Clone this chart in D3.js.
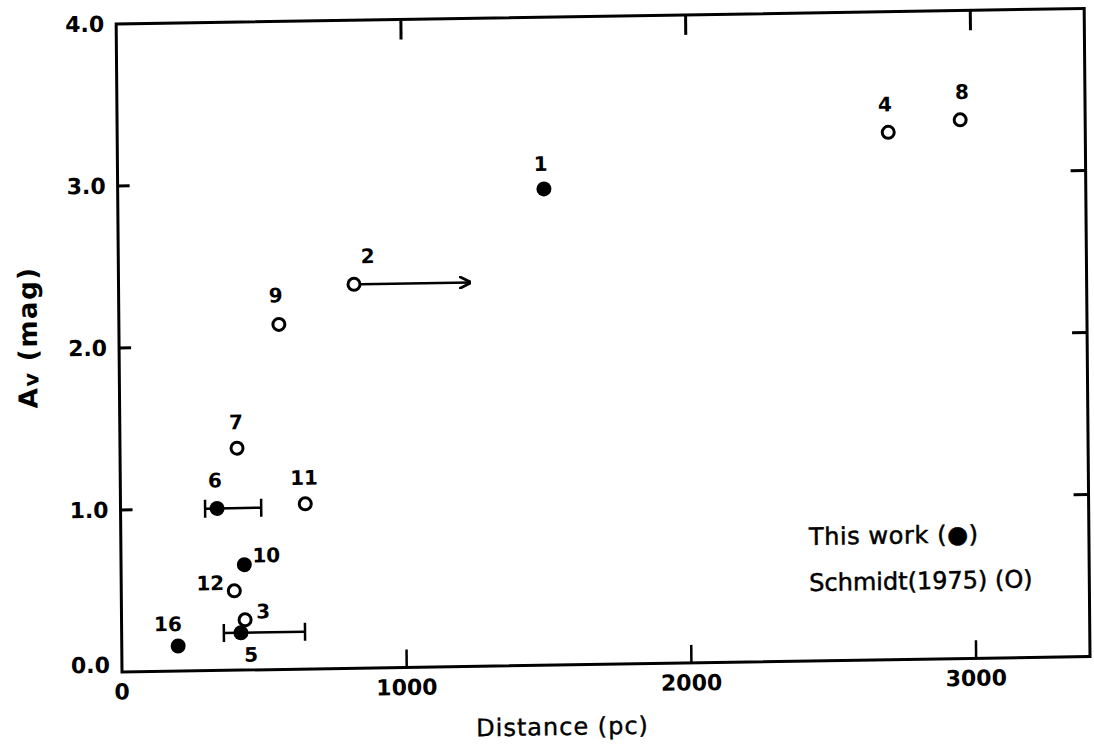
<!DOCTYPE html>
<html>
<head>
<meta charset="utf-8">
<script src="https://cdn.jsdelivr.net/npm/d3@7"></script>
<style>
  body { margin: 0; background: #fff; }
  svg { display: block; }
</style>
</head>
<body>
<div id="chart"></div>
<script>
// star numbers as printed next to each point
var starIds = ["1", "2", "3", "4", "5", "6", "7", "8", "9", "10", "11", "12", "16"];
// distance in pc
var distancePc = [1497, 827, 434, 2708, 419, 339, 411, 2961, 562, 433, 649, 397, 198];
// visual extinction
var avMag = [2.94, 2.37, 0.31, 3.255, 0.23, 1.00, 1.37, 3.325, 2.13, 0.65, 1.02, 0.49, 0.155];
// "this" = this work (filled), "schmidt" = Schmidt 1975 (open)
var source = ["this", "schmidt", "schmidt", "schmidt", "this", "this", "schmidt", "schmidt", "schmidt", "this", "schmidt", "schmidt", "this"];
// distance error bars (null = none)
var distLow = [null, null, null, null, 359, 297, null, null, null, null, null, null, null];
var distHigh = [null, null, null, null, 644, 494, null, null, null, null, null, null, null];
// lower limit arrow for star 2
var arrowTo = [null, 1235, null, null, null, null, null, null, null, null, null, null, null];

var xTicks = [0, 1000, 2000, 3000];
var yTicks = [0, 1, 2, 3, 4];
var legendItems = ["This work (\u25CF)", "Schmidt(1975) (O)"];

var data = starIds.map(function(id, i) {
  return {id: id, d: distancePc[i], av: avMag[i], src: source[i],
          lo: distLow[i], hi: distHigh[i], arrow: arrowTo[i]};
});

// label offsets around each point (layout only)
var labelOffset = {
  "1": [-3, -25], "2": [14, -28], "3": [18, -8], "4": [-3, -28], "5": [10, 22],
  "6": [-2, -28], "7": [-1, -26], "8": [2, -28], "9": [-3, -29], "10": [22, -9],
  "11": [-1, -26], "12": [-24, -8], "16": [-10, -22]
};

var W = 1094, H = 751;
var left = 122, bottom = 672;
var width = 968, height = 648;
var font = "'DejaVu Sans', sans-serif";

var x = d3.scaleLinear().domain([0, 3400]).range([0, width]);
var y = d3.scaleLinear().domain([0, 4]).range([height, 0]);

var svg = d3.select("#chart").append("svg")
  .attr("width", W)
  .attr("height", H);

// scanned figure sits slightly tilted / skewed
var g = svg.append("g")
  .attr("transform", "matrix(1,-0.016,0.009,1," + left + "," + bottom + ") translate(0," + (-height) + ")");

g.append("rect")
  .attr("width", width).attr("height", height)
  .attr("fill", "none").attr("stroke", "#000").attr("stroke-width", 3);

var inner = [1, 2, 3];
// tick marks pointing inward
g.selectAll(".ytl").data(inner).enter().append("line")
  .attr("x1", 0).attr("x2", 12)
  .attr("y1", function(d) { return y(d); }).attr("y2", function(d) { return y(d); })
  .attr("stroke", "#000").attr("stroke-width", 3);
g.selectAll(".ytr").data(inner).enter().append("line")
  .attr("x1", width).attr("x2", width - 15)
  .attr("y1", function(d) { return y(d); }).attr("y2", function(d) { return y(d); })
  .attr("stroke", "#000").attr("stroke-width", 3);
var xInner = xTicks.filter(function(d) { return d > 0; });
g.selectAll(".xtb").data(xInner).enter().append("line")
  .attr("x1", function(d) { return x(d); }).attr("x2", function(d) { return x(d); })
  .attr("y1", height).attr("y2", height - 18)
  .attr("stroke", "#000").attr("stroke-width", 2.5);
g.selectAll(".xtt").data(xInner).enter().append("line")
  .attr("x1", function(d) { return x(d); }).attr("x2", function(d) { return x(d); })
  .attr("y1", 0).attr("y2", 20)
  .attr("stroke", "#000").attr("stroke-width", 3);

// tick labels
g.selectAll(".ylab").data(yTicks).enter().append("text")
  .attr("x", -12)
  .attr("y", function(d) { return y(d) + (d === 0 ? -7 : 0); })
  .attr("text-anchor", "end")
  .attr("dominant-baseline", "central")
  .style("font-family", font).style("font-size", "22px").style("font-weight", "bold")
  .text(function(d) { return d3.format(".1f")(d); });

g.selectAll(".xlab").data(xTicks).enter().append("text")
  .attr("x", function(d) { return x(d); })
  .attr("y", height + 20)
  .attr("text-anchor", "middle")
  .attr("dominant-baseline", "central")
  .style("font-family", font).style("font-size", "22px").style("font-weight", "bold")
  .text(function(d) { return d; });

// axis titles
g.append("text")
  .attr("x", 440).attr("y", height + 62)
  .attr("text-anchor", "middle").attr("dominant-baseline", "central")
  .style("font-family", font).style("font-size", "24px").style("letter-spacing", "1px")
  .attr("stroke", "#000").attr("stroke-width", 0.4)
  .text("Distance (pc)");

var yt = g.append("text")
  .attr("transform", "translate(-91,312) rotate(-90)")
  .attr("text-anchor", "middle").attr("dominant-baseline", "central")
  .style("font-family", font).style("font-size", "26px").style("font-weight", "bold")
  .style("letter-spacing", "1.5px");
yt.append("tspan").text("A");
yt.append("tspan").attr("dy", 3).style("font-size", "21px").text("v");
yt.append("tspan").attr("dy", -3).text(" (mag)");

// error bars
var eb = data.filter(function(d) { return d.lo !== null; });
g.selectAll(".eb").data(eb).enter().append("line")
  .attr("x1", function(d) { return x(d.lo); }).attr("x2", function(d) { return x(d.hi); })
  .attr("y1", function(d) { return y(d.av); }).attr("y2", function(d) { return y(d.av); })
  .attr("stroke", "#000").attr("stroke-width", 2.5);
["lo", "hi"].forEach(function(k) {
  g.selectAll(".cap" + k).data(eb).enter().append("line")
    .attr("x1", function(d) { return x(d[k]); }).attr("x2", function(d) { return x(d[k]); })
    .attr("y1", function(d) { return y(d.av) - 9; }).attr("y2", function(d) { return y(d.av) + 9; })
    .attr("stroke", "#000").attr("stroke-width", 2.5);
});

// lower limit arrow
svg.append("defs").append("marker")
  .attr("id", "arr").attr("viewBox", "0 0 10 10")
  .attr("refX", 9).attr("refY", 5)
  .attr("markerWidth", 5).attr("markerHeight", 5)
  .attr("orient", "auto")
  .append("path").attr("d", "M0,0 L10,5 L0,10").attr("fill", "none")
  .attr("stroke", "#000").attr("stroke-width", 2.2);
var ar = data.filter(function(d) { return d.arrow !== null; });
g.selectAll(".arrow").data(ar).enter().append("line")
  .attr("x1", function(d) { return x(d.d) + 7; }).attr("x2", function(d) { return x(d.arrow); })
  .attr("y1", function(d) { return y(d.av); }).attr("y2", function(d) { return y(d.av); })
  .attr("stroke", "#000").attr("stroke-width", 2.5)
  .attr("marker-end", "url(#arr)");

// points
g.selectAll(".pt").data(data).enter().append("circle")
  .attr("cx", function(d) { return x(d.d); })
  .attr("cy", function(d) { return y(d.av); })
  .attr("r", function(d) { return d.src === "this" ? 7.5 : 6; })
  .attr("fill", function(d) { return d.src === "this" ? "#000" : "#fff"; })
  .attr("stroke", "#000")
  .attr("stroke-width", function(d) { return d.src === "this" ? 0 : 3; });

g.selectAll(".plab").data(data).enter().append("text")
  .attr("x", function(d) { return x(d.d) + labelOffset[d.id][0]; })
  .attr("y", function(d) { return y(d.av) + labelOffset[d.id][1]; })
  .attr("text-anchor", "middle").attr("dominant-baseline", "central")
  .style("font-family", font).style("font-size", "20px").style("font-weight", "bold")
  .text(function(d) { return d.id; });

// legend
g.selectAll(".leg").data(legendItems).enter().append("text")
  .attr("x", 688)
  .attr("y", function(d, i) { return 524 + i * 46; })
  .attr("dominant-baseline", "central")
  .style("font-family", font).style("font-size", "24px")
  .style("letter-spacing", function(d, i) { return i === 0 ? "0.6px" : "0px"; })
  .attr("stroke", "#000").attr("stroke-width", 0.5)
  .text(function(d) { return d; });
</script>
</body>
</html>
